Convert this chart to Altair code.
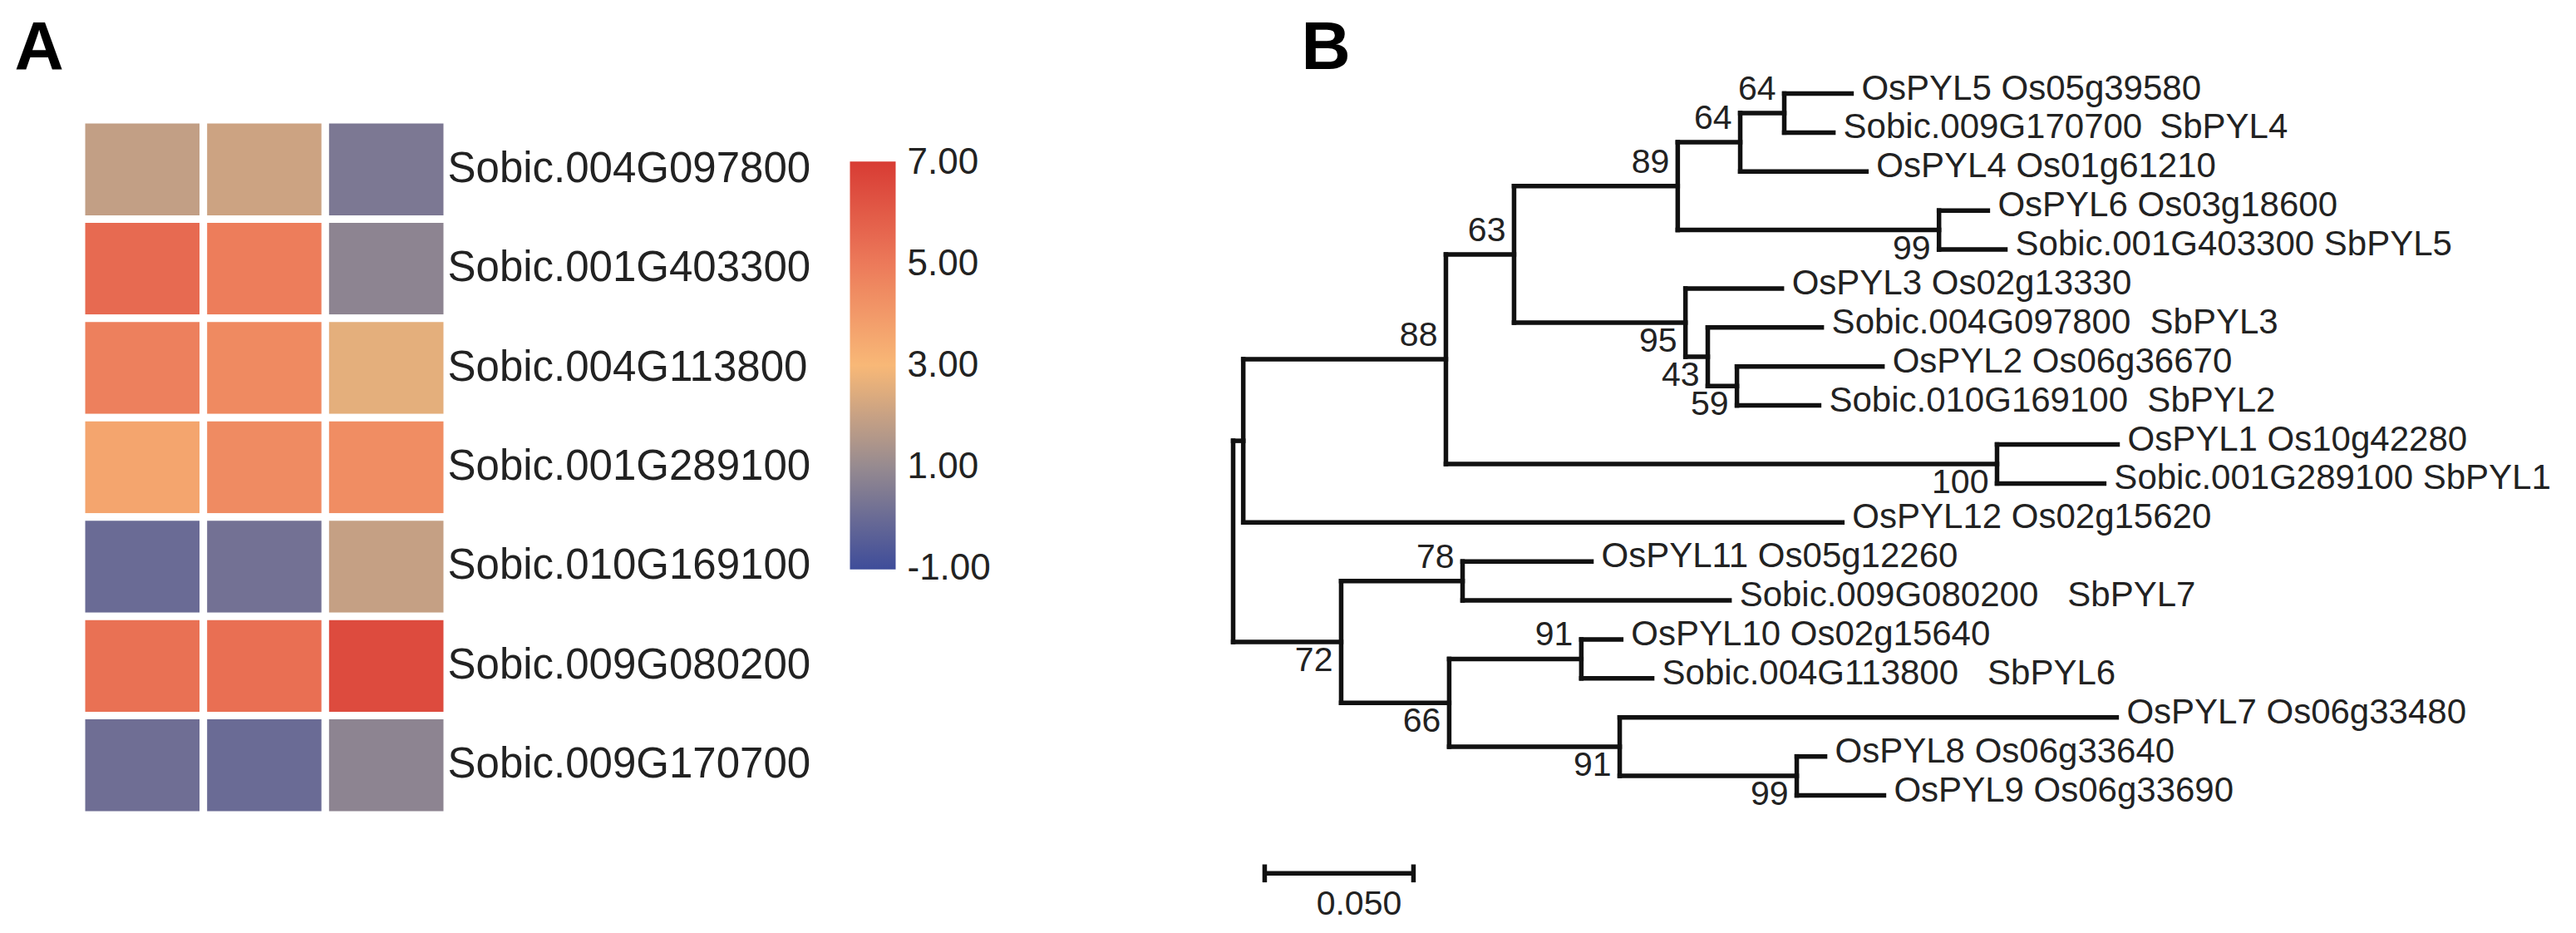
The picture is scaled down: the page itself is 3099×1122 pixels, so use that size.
import altair as alt
import pandas as pd

FONT = "Liberation Sans"
TXT = "#222222"

# ---------------- Panel A: heat map ----------------
genes = ["Sobic.004G097800", "Sobic.001G403300", "Sobic.004G113800", "Sobic.001G289100",
         "Sobic.010G169100", "Sobic.009G080200", "Sobic.009G170700"]
samples = ["S1", "S2", "S3"]
s1_values = [1.9, 5.5, 4.8, 3.6, 0.0, 5.3, 0.1]
s2_values = [2.1, 4.9, 4.5, 4.45, 0.2, 5.35, 0.0]
s3_values = [0.4, 0.8, 2.6, 4.4, 1.95, 6.5, 0.8]
legend_ticks = [-1, 1, 3, 5, 7]
legend_colors = ["#3e4c9a", "#968a90", "#f8b877", "#ec7a5a", "#d83b34"]

# ---------------- Panel B: tree ----------------
leaf_names = [
    "OsPYL5 Os05g39580",
    "Sobic.009G170700\u2002SbPYL4",
    "OsPYL4 Os01g61210",
    "OsPYL6 Os03g18600",
    "Sobic.001G403300 SbPYL5",
    "OsPYL3 Os02g13330",
    "Sobic.004G097800\u00a0\u00a0SbPYL3",
    "OsPYL2 Os06g36670",
    "Sobic.010G169100\u00a0\u00a0SbPYL2",
    "OsPYL1 Os10g42280",
    "Sobic.001G289100 SbPYL1",
    "OsPYL12 Os02g15620",
    "OsPYL11 Os05g12260",
    "Sobic.009G080200\u00a0\u00a0\u00a0SbPYL7",
    "OsPYL10 Os02g15640",
    "Sobic.004G113800\u00a0\u00a0\u00a0SbPYL6",
    "OsPYL7 Os06g33480",
    "OsPYL8 Os06g33640",
    "OsPYL9 Os06g33690",
]
leaf_depth = [0.2078, 0.2017, 0.2128, 0.2536, 0.2595, 0.1844, 0.1978, 0.2182, 0.1969,
              0.2972, 0.2927, 0.2047, 0.1204, 0.1668, 0.1304, 0.1408, 0.2969, 0.1989, 0.2187]

# internal nodes, children before parents
node_names = ["n64b", "n64a", "n99a", "n89", "n59", "n43", "n95", "n63", "n100", "n88",
              "nR1", "n78", "n91a", "n99b", "n91b", "n66", "n72", "root"]
node_depth = [0.1852, 0.1704, 0.2372, 0.1494, 0.1693, 0.1595, 0.1520, 0.0944, 0.2567, 0.0715,
              0.0034, 0.0771, 0.1170, 0.1894, 0.1299, 0.0726, 0.0363, 0.0]
node_children = [["L0", "L1"], ["n64b", "L2"], ["L3", "L4"], ["n64a", "n99a"],
                 ["L7", "L8"], ["L6", "n59"], ["L5", "n43"], ["n89", "n95"],
                 ["L9", "L10"], ["n63", "n100"], ["n88", "L11"],
                 ["L12", "L13"], ["L14", "L15"], ["L17", "L18"], ["L16", "n99b"],
                 ["n91a", "n91b"], ["n78", "n66"], ["nR1", "n72"]]
node_support = ["64", "64", "99", "89", "59", "43", "95", "63", "100", "88",
                "", "78", "91", "99", "91", "66", "72", ""]
node_side = ["above", "above", "below", "above", "below", "below", "below", "above", "below", "above",
             "none", "above", "above", "below", "below", "below", "below", "none"]

scalebar_start = 0.0106
scalebar_length = 0.05
scalebar_row = 20.0

# ---------------- build tables ----------------
heat_rows = []
for s, vals in zip(samples, [s1_values, s2_values, s3_values]):
    for g, v in zip(genes, vals):
        heat_rows.append({"gene": g, "sample": s, "value": v})
heat_df = pd.DataFrame(heat_rows)

pos = {}
for i, d in enumerate(leaf_depth):
    pos[f"L{i}"] = (d, float(i))
segs = []
nodes = []
for name, d, ch, sup, side in zip(node_names, node_depth, node_children, node_support, node_side):
    ys = [pos[c][1] for c in ch]
    y = (min(ys) + max(ys)) / 2
    pos[name] = (d, y)
    segs.append({"x": d, "x2": d, "y": min(ys), "y2": max(ys)})
    for c in ch:
        segs.append({"x": d, "x2": pos[c][0], "y": pos[c][1], "y2": pos[c][1]})
    nodes.append({"x": d, "y": y, "label": sup, "side": side})
seg_df = pd.DataFrame(segs)
node_df = pd.DataFrame(nodes)
leaf_df = pd.DataFrame({"x": leaf_depth, "y": list(range(len(leaf_names))), "label": leaf_names})

sb_half = 0.23
bar_df = pd.DataFrame([
    {"x": scalebar_start, "x2": scalebar_start + scalebar_length, "y": scalebar_row, "y2": scalebar_row},
    {"x": scalebar_start, "x2": scalebar_start, "y": scalebar_row - sb_half, "y2": scalebar_row + sb_half},
    {"x": scalebar_start + scalebar_length, "x2": scalebar_start + scalebar_length,
     "y": scalebar_row - sb_half, "y2": scalebar_row + sb_half},
])
bar_lab_df = pd.DataFrame([{"x": scalebar_start + scalebar_length / 2, "y": scalebar_row + 1.07,
                            "label": f"{scalebar_length:.3f}"}])

# ---------------- layout constants ----------------
HEAT_W, HEAT_H = 440, 836
TREE_W, TREE_H = 1500, 836
PX_PER_UNIT = 3580.0
LEAF_PX = 46.89
LEAF0_OFFSET = 31.5  # leaf 0 sits this far above the panel top
y0 = LEAF0_OFFSET / LEAF_PX
y1 = y0 + TREE_H / LEAF_PX
LINE_W = 5.5
LETTER_SIZE = 82
LETTER_Y = -61

# colour scale: a hair of extra room at both ends so the end labels centre on the bar ends
EPS = 0.02
span = legend_ticks[-1] - legend_ticks[0]
color_domain = [legend_ticks[0] - EPS] + legend_ticks[1:-1] + [legend_ticks[-1] + EPS]
GRAD_LEN = 488 * (span + 2 * EPS) / span
LEG_Y = 51.5 - 488 * EPS / span

# ---------------- panel A ----------------
cells = alt.Chart(heat_df).mark_rect(stroke="white", strokeWidth=9).encode(
    x=alt.X("sample:N", sort=samples, axis=None),
    y=alt.Y("gene:N", sort=genes,
            axis=alt.Axis(orient="right", title=None, ticks=False, domain=False,
                          labelFontSize=51, labelFont=FONT, labelColor=TXT,
                          labelPadding=0, labelLimit=900)),
    color=alt.Color("value:Q",
                    scale=alt.Scale(domain=color_domain, range=legend_colors, interpolate="rgb"),
                    legend=alt.Legend(orient="none", legendX=924.5, legendY=LEG_Y, title=None,
                                      direction="vertical", gradientLength=GRAD_LEN, gradientThickness=55,
                                      gradientStrokeWidth=0, values=legend_ticks,
                                      labelExpr="(datum.value < 0 ? '-' : '') + format(abs(datum.value), '.2f')",
                                      labelFontSize=44, labelFont=FONT, labelColor=TXT,
                                      labelOverlap=False,
                                      labelOffset=14, padding=0)),
)
a_text = alt.Chart(pd.DataFrame({"t": ["A"]})).mark_text(
    align="left", baseline="alphabetic", fontSize=LETTER_SIZE, fontWeight="bold", font=FONT, color="black"
).encode(text="t:N", x=alt.value(-80.5), y=alt.value(LETTER_Y))
heat = alt.layer(cells, a_text).properties(width=HEAT_W, height=HEAT_H)

# ---------------- panel B ----------------
X = alt.X("x:Q", scale=alt.Scale(domain=[0, TREE_W / PX_PER_UNIT], nice=False, zero=False), axis=None)
Y = alt.Y("y:Q", scale=alt.Scale(domain=[y0, y1], reverse=True, nice=False, zero=False), axis=None)

branches = alt.Chart(seg_df).mark_rule(strokeWidth=LINE_W, color="#111111", strokeCap="square").encode(
    x=X, x2="x2:Q", y=Y, y2="y2:Q")
leaf_text = alt.Chart(leaf_df).mark_text(
    align="left", baseline="alphabetic", dx=12, dy=7, fontSize=42, font=FONT, color=TXT
).encode(x=X, y=Y, text="label:N")
boot_above = alt.Chart(node_df).transform_filter(alt.datum.side == "above").mark_text(
    align="right", baseline="alphabetic", dx=-10, dy=-16, fontSize=41, font=FONT, color=TXT
).encode(x=X, y=Y, text="label:N")
boot_below = alt.Chart(node_df).transform_filter(alt.datum.side == "below").mark_text(
    align="right", baseline="alphabetic", dx=-10, dy=35, fontSize=41, font=FONT, color=TXT
).encode(x=X, y=Y, text="label:N")
scalebar = alt.Chart(bar_df).mark_rule(strokeWidth=LINE_W, color="#111111").encode(
    x=X, x2="x2:Q", y=Y, y2="y2:Q")
scalebar_label = alt.Chart(bar_lab_df).mark_text(
    align="center", baseline="alphabetic", dx=24, fontSize=41, font=FONT, color=TXT
).encode(x=X, y=Y, text="label:N")
b_text = alt.Chart(pd.DataFrame({"t": ["B"]})).mark_text(
    align="left", baseline="alphabetic", fontSize=LETTER_SIZE, fontWeight="bold", font=FONT, color="black"
).encode(text="t:N", x=alt.value(82), y=alt.value(LETTER_Y))

tree = alt.layer(branches, leaf_text, boot_above, boot_below, scalebar, scalebar_label, b_text
                 ).properties(width=TREE_W, height=TREE_H)

chart = alt.hconcat(heat, tree, spacing=945.5, bounds="flush").properties(
    padding={"left": 9, "top": 9, "right": 5, "bottom": 0}
).configure_view(stroke=None)

chart.save("out.html", embed_options={"renderer": "svg", "actions": False})
